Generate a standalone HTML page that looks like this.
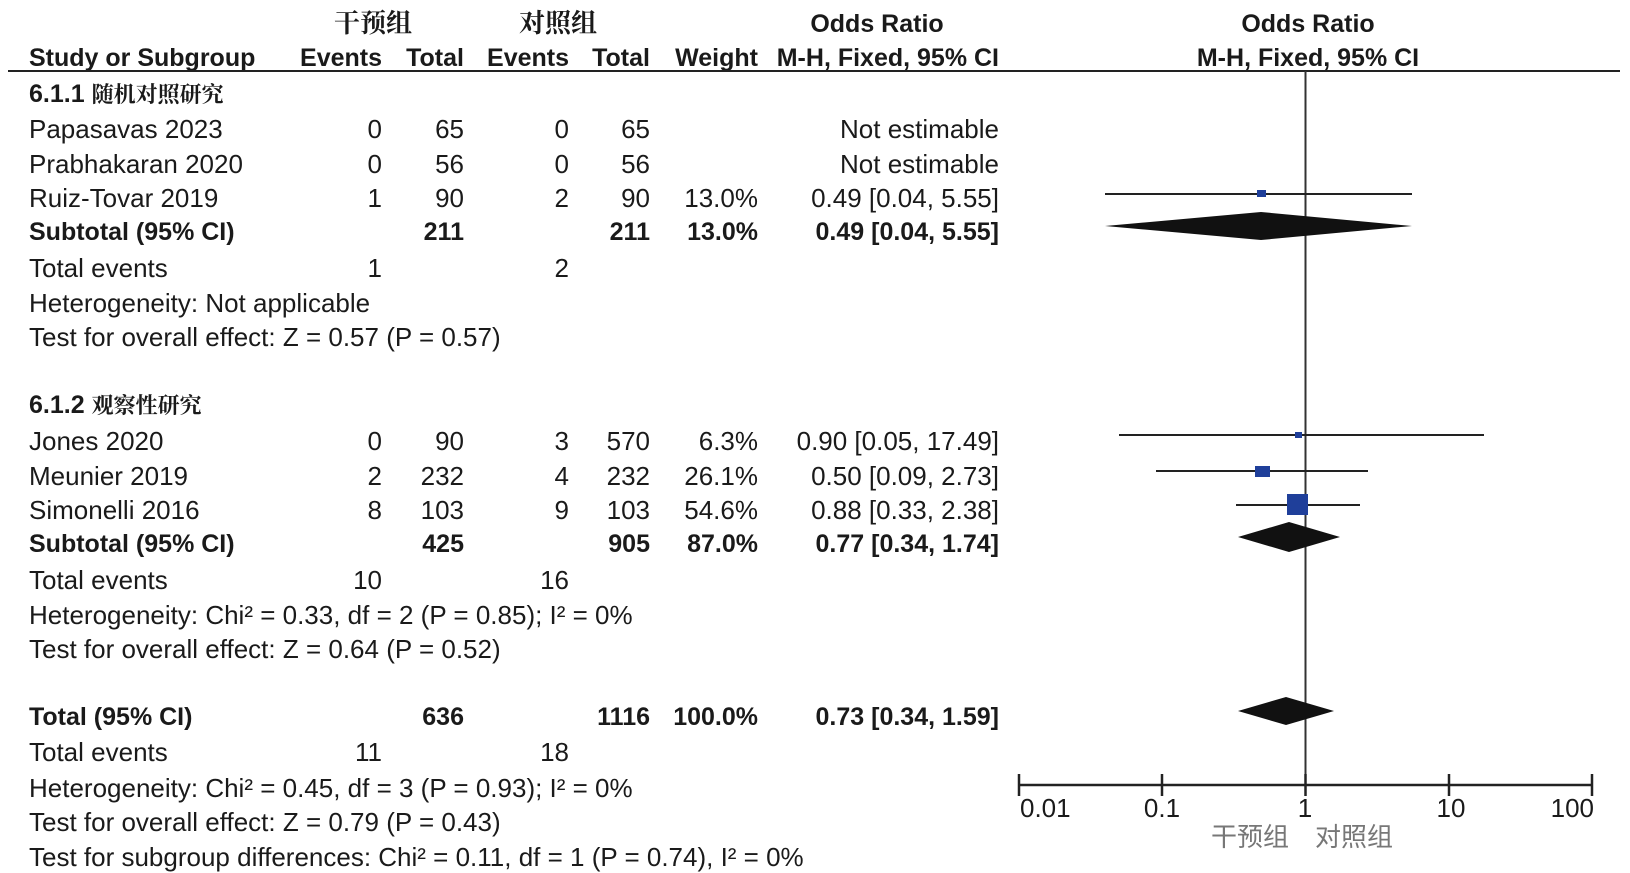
<!DOCTYPE html>
<html><head><meta charset="utf-8"><style>
html,body{margin:0;padding:0;background:#fff}
svg{display:block}
text{font-family:"Liberation Sans","Noto Sans CJK SC",sans-serif;font-size:26px;fill:#1a1a1a}
.b{font-weight:bold;font-size:25px}
.r{text-anchor:end}
.m{text-anchor:middle}
.cj{font-family:"Noto Serif CJK SC","Noto Sans CJK SC",serif;font-weight:bold}
</style></head><body>
<svg width="1630" height="873" viewBox="0 0 1630 873">
<text x="373" y="32" class="m cj" font-size="22">干预组</text>
<text x="558" y="32" class="m cj" font-size="22">对照组</text>
<text x="877" y="32" class="m b">Odds Ratio</text>
<text x="1308" y="32" class="m b">Odds Ratio</text>
<text x="29" y="66" class="b">Study or Subgroup</text>
<text x="382" y="66" class="r b">Events</text>
<text x="464" y="66" class="r b">Total</text>
<text x="569" y="66" class="r b">Events</text>
<text x="650" y="66" class="r b">Total</text>
<text x="758" y="66" class="r b">Weight</text>
<text x="999" y="66" class="r b">M-H, Fixed, 95% CI</text>
<text x="1308" y="66" class="m b">M-H, Fixed, 95% CI</text>
<line x1="8" y1="71" x2="1620" y2="71" stroke="#222" stroke-width="2"/>

<text x="29" y="102" class="b">6.1.1 <tspan class="cj" font-size="22">随机对照研究</tspan></text>
<g>
<text x="29" y="138">Papasavas 2023</text><text x="382" y="138" class="r">0</text><text x="464" y="138" class="r">65</text><text x="569" y="138" class="r">0</text><text x="650" y="138" class="r">65</text><text x="999" y="138" class="r">Not estimable</text>
<text x="29" y="173">Prabhakaran 2020</text><text x="382" y="173" class="r">0</text><text x="464" y="173" class="r">56</text><text x="569" y="173" class="r">0</text><text x="650" y="173" class="r">56</text><text x="999" y="173" class="r">Not estimable</text>
<text x="29" y="207">Ruiz-Tovar 2019</text><text x="382" y="207" class="r">1</text><text x="464" y="207" class="r">90</text><text x="569" y="207" class="r">2</text><text x="650" y="207" class="r">90</text><text x="758" y="207" class="r">13.0%</text><text x="999" y="207" class="r">0.49 [0.04, 5.55]</text>
<text x="29" y="240" class="b">Subtotal (95% CI)</text><text x="464" y="240" class="r b">211</text><text x="650" y="240" class="r b">211</text><text x="758" y="240" class="r b">13.0%</text><text x="999" y="240" class="r b">0.49 [0.04, 5.55]</text>
<text x="29" y="277">Total events</text><text x="382" y="277" class="r">1</text><text x="569" y="277" class="r">2</text>
<text x="29" y="312">Heterogeneity: Not applicable</text>
<text x="29" y="346">Test for overall effect: Z = 0.57 (P = 0.57)</text>
</g>
<text x="29" y="413" class="b">6.1.2 <tspan class="cj" font-size="22">观察性研究</tspan></text>
<g>
<text x="29" y="450">Jones 2020</text><text x="382" y="450" class="r">0</text><text x="464" y="450" class="r">90</text><text x="569" y="450" class="r">3</text><text x="650" y="450" class="r">570</text><text x="758" y="450" class="r">6.3%</text><text x="999" y="450" class="r">0.90 [0.05, 17.49]</text>
<text x="29" y="485">Meunier 2019</text><text x="382" y="485" class="r">2</text><text x="464" y="485" class="r">232</text><text x="569" y="485" class="r">4</text><text x="650" y="485" class="r">232</text><text x="758" y="485" class="r">26.1%</text><text x="999" y="485" class="r">0.50 [0.09, 2.73]</text>
<text x="29" y="519">Simonelli 2016</text><text x="382" y="519" class="r">8</text><text x="464" y="519" class="r">103</text><text x="569" y="519" class="r">9</text><text x="650" y="519" class="r">103</text><text x="758" y="519" class="r">54.6%</text><text x="999" y="519" class="r">0.88 [0.33, 2.38]</text>
<text x="29" y="552" class="b">Subtotal (95% CI)</text><text x="464" y="552" class="r b">425</text><text x="650" y="552" class="r b">905</text><text x="758" y="552" class="r b">87.0%</text><text x="999" y="552" class="r b">0.77 [0.34, 1.74]</text>
<text x="29" y="589">Total events</text><text x="382" y="589" class="r">10</text><text x="569" y="589" class="r">16</text>
<text x="29" y="624">Heterogeneity: Chi² = 0.33, df = 2 (P = 0.85); I² = 0%</text>
<text x="29" y="658">Test for overall effect: Z = 0.64 (P = 0.52)</text>
</g>
<text x="29" y="725" class="b">Total (95% CI)</text><text x="464" y="725" class="r b">636</text><text x="650" y="725" class="r b">1116</text><text x="758" y="725" class="r b">100.0%</text><text x="999" y="725" class="r b">0.73 [0.34, 1.59]</text>
<text x="29" y="761">Total events</text><text x="382" y="761" class="r">11</text><text x="569" y="761" class="r">18</text>
<text x="29" y="797">Heterogeneity: Chi² = 0.45, df = 3 (P = 0.93); I² = 0%</text>
<text x="29" y="831">Test for overall effect: Z = 0.79 (P = 0.43)</text>
<text x="29" y="866">Test for subgroup differences: Chi² = 0.11, df = 1 (P = 0.74), I² = 0%</text>

<line x1="1305.5" y1="71" x2="1305.5" y2="785" stroke="#333" stroke-width="2"/>
<g stroke="#222" stroke-width="2">
<line x1="1105" y1="194" x2="1412" y2="194"/>
<line x1="1119" y1="435" x2="1484" y2="435"/>
<line x1="1156" y1="471" x2="1368" y2="471"/>
<line x1="1236" y1="505" x2="1360" y2="505"/>
</g>
<g fill="#1f3f9a">
<rect x="1257" y="190" width="9" height="7"/>
<rect x="1295" y="432" width="7" height="6"/>
<rect x="1255" y="466" width="15" height="11"/>
<rect x="1287" y="494" width="21" height="21"/>
</g>
<g fill="#111">
<polygon points="1105,226 1261,212 1412,226 1261,240"/>
<polygon points="1238,537 1289,522 1340,537 1289,552"/>
<polygon points="1238,711 1286,697 1334,711 1286,725"/>
</g>
<g stroke="#222" stroke-width="2.5">
<line x1="1019" y1="785" x2="1592" y2="785"/>
<line x1="1019" y1="774" x2="1019" y2="796"/>
<line x1="1162" y1="774" x2="1162" y2="796"/>
<line x1="1305.5" y1="774" x2="1305.5" y2="796"/>
<line x1="1449" y1="774" x2="1449" y2="796"/>
<line x1="1592" y1="774" x2="1592" y2="796"/>
</g>
<g font-size="24">
<text x="1020" y="817" font-size="24">0.01</text>
<text x="1162" y="817" class="m" font-size="24">0.1</text>
<text x="1305" y="817" class="m" font-size="24">1</text>
<text x="1451" y="817" class="m" font-size="24">10</text>
<text x="1594" y="817" class="r" font-size="24">100</text>
</g>
<text x="1302" y="846" class="m" font-size="21" style="fill:#777">干预组　对照组</text>
</svg>
</body></html>
